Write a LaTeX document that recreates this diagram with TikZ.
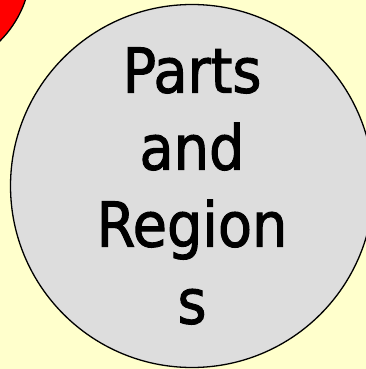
\documentclass[tikz,border=0pt]{standalone}
\usepackage{fontspec}
\newfontfamily\labelfont{DejaVu Sans Condensed}[FakeBold=1.6]
\definecolor{paper}{HTML}{FFFFCC}
\definecolor{discgrey}{HTML}{DDDDDD}
\tikzset{
  disc/.style={circle, draw=black, line width=1.3pt, inner sep=0pt},
}
\begin{document}
\begin{tikzpicture}[x=1pt, y=-1pt]
  % Background
  \fill[paper] (0,0) rectangle (366,369);
  \useasboundingbox (0,0) rectangle (366,369);
  % Red disc, mostly off the page
  \node[disc, fill=red, minimum size=212pt] (neighbour) at (-75,-34) {};
  % Grey disc with its label
  \node[disc, fill=discgrey, minimum size=363pt, align=center,
        font=\labelfont\fontsize{62}{77}\selectfont, text=black] (parts) at (192,186)
        {Parts\\and\\Region\\s};
\end{tikzpicture}
\end{document}
